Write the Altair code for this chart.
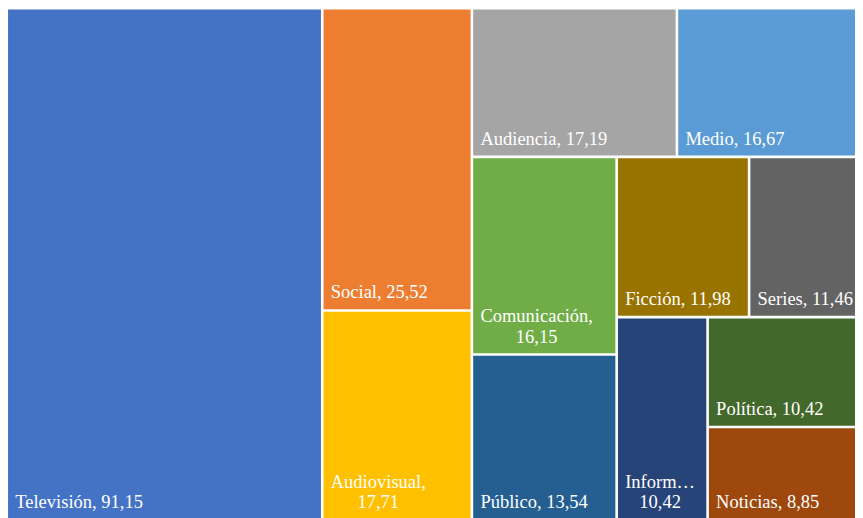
import altair as alt
import pandas as pd

# ---- data ----
names = ["Televisión", "Social", "Audiovisual", "Audiencia", "Medio", "Comunicación",
         "Público", "Ficción", "Series", "Información", "Política", "Noticias"]
values = [91.15, 25.52, 17.71, 17.19, 16.67, 16.15, 13.54, 11.98, 11.46, 10.42, 10.42, 8.85]
colors = ["#4472C4", "#ED7D31", "#FFC000", "#A5A5A5", "#5B9BD5", "#70AD47",
          "#255E91", "#997300", "#636363", "#264478", "#43682B", "#9E480E"]

# ---- layout parameters ----
CHART_W, CHART_H = 847, 510
LAY_X, LAY_Y, LAY_W, LAY_H = -1.25, 0.25, 869.0, 512.0
GAP = 2.6
TAU = 0.75          # preferred thickness/length ratio of a cell inside a strip
FONT = "Liberation Serif"
FS = 18.5
LH = 20.5

# Times-like character widths (em) to decide wrapping of labels
CW = {}
for ch, wv in [("a", .444), ("b", .5), ("c", .444), ("d", .5), ("e", .444), ("f", .333),
               ("g", .5), ("h", .5), ("i", .278), ("j", .278), ("k", .5), ("l", .278),
               ("m", .778), ("n", .5), ("o", .5), ("p", .5), ("q", .5), ("r", .333),
               ("s", .389), ("t", .278), ("u", .5), ("v", .5), ("w", .722), ("x", .5),
               ("y", .5), ("z", .444), ("á", .444), ("é", .444), ("í", .278), ("ó", .5),
               ("ú", .5), ("A", .722), ("C", .667), ("F", .556), ("I", .333), ("M", .889),
               ("N", .722), ("P", .556), ("S", .556), ("T", .611), (",", .25), (" ", .25),
               ("…", 1.0)]:
    CW[ch] = wv
for d in "0123456789":
    CW[d] = .5


def text_w(s):
    return sum(CW.get(c, .5) for c in s) * FS


def squarify(vals, x, y, w, h):
    out = []
    i, n = 0, len(vals)
    while i < n:
        rem = sum(vals[i:])
        wide = w >= h
        short = h if wide else w
        long_ = w if wide else h

        def worst(items):
            s = sum(items)
            t = s / rem * long_
            r = 0
            for v in items:
                l = v / s * short
                q = (t / l) / TAU
                r = max(r, q, 1 / q)
            return r

        j = i + 1
        best = worst(vals[i:j])
        while j < n:
            nw = worst(vals[i:j + 1])
            if nw > best:
                break
            best = nw
            j += 1
        s = sum(vals[i:j])
        t = s / rem * long_
        pos = 0.0
        for v in vals[i:j]:
            l = v / s * short
            if wide:
                out.append((x, y + pos, x + t, y + pos + l))
            else:
                out.append((x + pos, y, x + pos + l, y + t))
            pos += l
        if wide:
            x += t
            w -= t
        else:
            y += t
            h -= t
        i = j
    return out


cells = squarify(values, LAY_X, LAY_Y, LAY_W, LAY_H)

rect_rows, single_rows, multi_rows = [], [], []
for nm, v, c, (x0, y0, x1, y1) in zip(names, values, colors, cells):
    vs = f"{v:.2f}".replace(".", ",")
    rect_rows.append(dict(name=nm, x=x0 + GAP / 2, x2=x1 - GAP / 2, y=y0 + GAP / 2, y2=y1 - GAP / 2))
    avail = (x1 - x0) - 17
    full = f"{nm}, {vs}"
    left = x0 + 8.5
    base = y1 - 12
    if text_w(full) <= avail:
        single_rows.append(dict(label=full, tx=left, ty=base))
    else:
        first = nm + ","
        if text_w(first) > avail:
            k = len(nm)
            while k > 1 and text_w(nm[:k] + "…") > avail:
                k -= 1
            first = nm[:k] + "…"
        multi_rows.append(dict(label=first + "\n" + vs, tx=left + text_w(first) / 2, ty=base - LH))

xs = alt.Scale(domain=[0, CHART_W], nice=False, zero=False)
ys = alt.Scale(domain=[0, CHART_H], nice=False, zero=False, reverse=True)

rects = alt.Chart(pd.DataFrame(rect_rows)).mark_rect(clip=True).encode(
    x=alt.X("x:Q", scale=xs, axis=None),
    x2="x2:Q",
    y=alt.Y("y:Q", scale=ys, axis=None),
    y2="y2:Q",
    color=alt.Color("name:N", scale=alt.Scale(domain=names, range=colors), legend=None),
)

singles = alt.Chart(pd.DataFrame(single_rows)).mark_text(
    align="left", baseline="alphabetic", font=FONT, fontSize=FS, color="white", clip=True
).encode(
    x=alt.X("tx:Q", scale=xs, axis=None),
    y=alt.Y("ty:Q", scale=ys, axis=None),
    text="label:N",
)

multis = alt.Chart(pd.DataFrame(multi_rows)).mark_text(
    align="center", baseline="alphabetic", font=FONT, fontSize=FS, color="white",
    lineBreak="\n", lineHeight=LH, clip=True
).encode(
    x=alt.X("tx:Q", scale=xs, axis=None),
    y=alt.Y("ty:Q", scale=ys, axis=None),
    text="label:N",
)

chart = alt.layer(rects, singles, multis).properties(
    width=CHART_W, height=CHART_H, padding=0,
    autosize=alt.AutoSizeParams(type="none"), background="white"
).configure_view(stroke=None)

chart.save("out.html", embed_options={"renderer": "svg", "actions": False})
